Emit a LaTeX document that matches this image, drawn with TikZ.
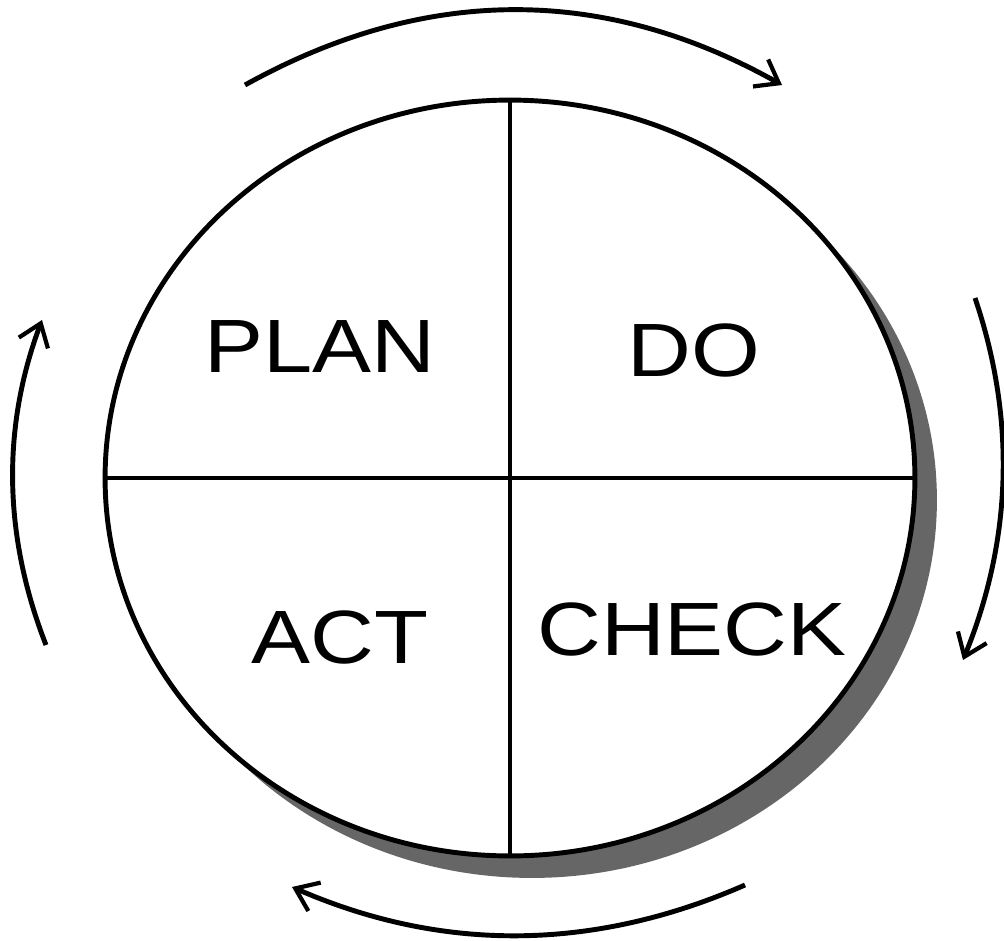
\documentclass[tikz,border=0pt]{standalone}
\usepackage{fontspec}
\setmainfont{Liberation Sans}
\usetikzlibrary{shapes.geometric,arrows.meta}
\begin{document}
\begin{tikzpicture}[x=0.02cm,y=-0.02cm,
  ring/.style={ellipse,draw=black,line width=2.8pt,fill=white,minimum width=16.2cm,minimum height=15.12cm,inner sep=0pt},
  shade/.style={ellipse,fill=black!60,minimum width=16.2cm,minimum height=15.12cm,inner sep=0pt},
  divider/.style={line width=2.8pt},
  cyclearrow/.style={line width=2.8pt,-{Straight Barb[length=0.42cm,width=0.62cm,line width=2.4pt]}},
  label/.style={font=\fontsize{43}{43}\selectfont,inner sep=0pt,xscale=1.17}]
\useasboundingbox (0,0) rectangle (1004,940);
\node[shade] (sh) at (532,500) {};
\node[ring] (cyc) at (510,478) {};
\draw[divider] (cyc.north) -- (cyc.south);
\draw[divider] (cyc.west) -- (cyc.east);
\node[label] (plan) at (320,347) {PLAN};
\node[label] (do) at (694,350) {DO};
\node[label] (act) at (340,637) {ACT};
\node[label] (check) at (692,629) {CHECK};
\coordinate (t1) at (245,85);
\coordinate (t2) at (782,85);
\coordinate (r1) at (975,298);
\coordinate (r2) at (963,660);
\coordinate (b1) at (745,885);
\coordinate (b2) at (292,887);
\coordinate (l1) at (46,645);
\coordinate (l2) at (42,320);
\draw[cyclearrow] (t1) .. controls (425,-15) and (604,-15) .. (t2);
\draw[cyclearrow] (r1) .. controls (1016,419) and (1012,540) .. (r2);
\draw[cyclearrow] (b1) .. controls (592,952) and (441,952) .. (b2);
\draw[cyclearrow] (l1) .. controls (3,535) and (2,427) .. (l2);
\end{tikzpicture}
\end{document}
